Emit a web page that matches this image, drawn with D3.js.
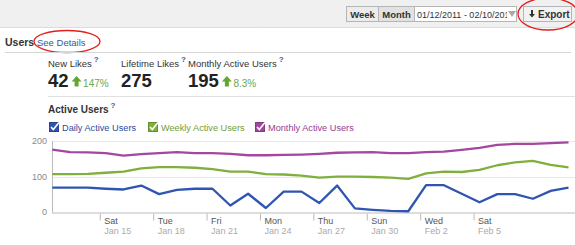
<!DOCTYPE html>
<html><head><meta charset="utf-8">
<script src="https://cdn.jsdelivr.net/npm/d3@7"></script>
<style>
html,body{margin:0;padding:0;background:#fff;}
svg{display:block;font-family:"Liberation Sans",Arial,sans-serif;}
</style></head>
<body><div id="chart"></div>
<script>
// ---- data ----
const dates = d3.range(30).map(i => new Date(2011, 0, 12 + i, 8));
const dailyActive   = [69,69,69,66,64,75,51,63,66,66,19,52,12,58,58,26,75,11,7,4,3,76,76,52,28,51,51,38,60,69];
const weeklyActive  = [107,107,108,111,114,123,127,127,125,121,114,114,107,106,103,97,100,100,99,97,94,109,114,113,119,132,140,144,133,126];
const monthlyActive = [176,169,168,166,159,163,166,169,166,166,164,160,160,161,162,164,167,168,169,166,166,169,170,175,181,189,192,192,194,196];
const seriesNames = ["Daily Active Users","Weekly Active Users","Monthly Active Users"];
const seriesColors = ["#2f55b0","#7fb03c","#a3479f"];
const tickDates = [15,18,21,24,27,30,33,36].map(d => new Date(2011,0,d));
const yTicks = [0,100,200];
const stats = [
  {label:"New Likes", value:"42", change:"147%"},
  {label:"Lifetime Likes", value:"275", change:null},
  {label:"Monthly Active Users", value:"195", change:"8.3%"}
];
const dateRangeText = "01/12/2011 - 02/10/2011";

const W = 575, H = 245;
const svg = d3.select("#chart").append("svg").attr("width", W).attr("height", H);

// ---- top toolbar ----
svg.append("rect").attr("x",0).attr("y",0).attr("width",W).attr("height",27).attr("fill","#f0f0f0");
svg.append("line").attr("x1",0).attr("x2",W).attr("y1",27.5).attr("y2",27.5).attr("stroke","#dcdcdc");
const btnG = svg.append("g");
function btn(x,w,label,bg){
  btnG.append("rect").attr("x",x+0.5).attr("y",6.5).attr("width",w).attr("height",15)
    .attr("fill",bg).attr("stroke","#b5b5b5");
  btnG.append("text").attr("x",x+w/2+0.5).attr("y",17.5).attr("text-anchor","middle")
    .attr("font-size",9.5).attr("font-weight","bold").attr("fill","#333").text(label);
}
btn(346,32,"Week","#ececec");
btn(378,36,"Month","#e2e2e2");
// date box
btnG.append("rect").attr("x",414.5).attr("y",6.5).attr("width",102).attr("height",15).attr("fill","#fff").attr("stroke","#b5b5b5");
svg.append("clipPath").attr("id","dclip").append("rect").attr("x",415).attr("y",6).attr("width",92).attr("height",16);
btnG.append("text").attr("x",417).attr("y",17.5).attr("font-size",9).attr("fill","#333")
  .attr("clip-path","url(#dclip)").text(dateRangeText);
btnG.append("path").attr("d","M508,11 L516,11 L512,17 Z").attr("fill","#aaa");
// export
btnG.append("rect").attr("x",523.5).attr("y",6.5).attr("width",48).attr("height",15).attr("fill","#f2f2f2").attr("stroke","#b5b5b5");
btnG.append("path").attr("d","M531,10 L533,10 L533,14 L535,14 L532,17.5 L529,14 L531,14 Z").attr("fill","#333");
btnG.append("text").attr("x",538).attr("y",17.5).attr("font-size",10).attr("font-weight","bold").attr("fill","#333").text("Export");
svg.append("ellipse").attr("cx",548).attr("cy",14).attr("rx",30).attr("ry",16)
  .attr("fill","none").attr("stroke","#e0201c").attr("stroke-width",1.3);

// ---- Users header ----
svg.append("text").attr("x",5).attr("y",46).attr("font-size",10.5).attr("font-weight","bold").attr("fill","#333").text("Users");
svg.append("text").attr("x",37).attr("y",46).attr("font-size",9.5).attr("fill","#3b5998").text("See Details");
svg.append("ellipse").attr("cx",67).attr("cy",41.5).attr("rx",33).attr("ry",11)
  .attr("fill","none").attr("stroke","#e0201c").attr("stroke-width",1.3);
svg.append("line").attr("x1",5).attr("x2",W-4).attr("y1",52.5).attr("y2",52.5).attr("stroke","#d6d6d6");

// ---- stats ----
const statX = [48,121,188];
stats.forEach((s,i)=>{
  const g = svg.append("g").attr("transform",`translate(${statX[i]},0)`);
  const lab = g.append("text").attr("x",0).attr("y",67).attr("font-size",9.5).attr("fill","#333").text(s.label);
  const lw = lab.node().getComputedTextLength();
  g.append("text").attr("x",lw+2).attr("y",62).attr("font-size",8).attr("font-weight","bold").attr("fill","#3b5998").text("?");
  const v = g.append("text").attr("x",0).attr("y",87).attr("font-size",18.5).attr("font-weight","bold").attr("fill","#222").text(s.value);
  const vw = v.node().getComputedTextLength();
  if(s.change){
    const ax = vw+3;
    g.append("path").attr("d",`M${ax+5},76 L${ax+10},81.5 L${ax+7},81.5 L${ax+7},86.5 L${ax+3},86.5 L${ax+3},81.5 L${ax},81.5 Z`).attr("fill","#63a530");
    g.append("text").attr("x",ax+11.5).attr("y",86.5).attr("font-size",10).attr("fill","#6aa84f").text(s.change);
  }
});
svg.append("line").attr("x1",48).attr("x2",W).attr("y1",96.5).attr("y2",96.5).attr("stroke","#e0e0e0");

// ---- Active Users title ----
const au = svg.append("text").attr("x",48).attr("y",113).attr("font-size",10).attr("font-weight","bold").attr("fill","#333").text("Active Users");
const auw = au.node().getComputedTextLength();
svg.append("text").attr("x",48+auw+2).attr("y",108).attr("font-size",8).attr("font-weight","bold").attr("fill","#3b5998").text("?");

// ---- legend ----
const legX = [49,148,255];
seriesNames.forEach((n,i)=>{
  const g = svg.append("g").attr("transform",`translate(${legX[i]},122)`);
  g.append("rect").attr("x",0.5).attr("y",0.5).attr("width",9).attr("height",9).attr("fill",seriesColors[i]).attr("stroke",d3.color(seriesColors[i]).darker(0.6));
  g.append("path").attr("d","M2,5 L4.3,7.5 L10,0.5").attr("fill","none").attr("stroke","#fff").attr("stroke-width",1.6);
  g.append("text").attr("x",13).attr("y",8.8).attr("font-size",9.2).attr("fill",d3.color(seriesColors[i]).darker(0.3)).text(n);
});

// ---- chart ----
const x = d3.scaleTime().domain([dates[0], dates[dates.length-1]]).range([52.3, 568.5]);
const y = d3.scaleLinear().domain([0,200]).range([212.3, 141]);

svg.append("g").selectAll("line").data(yTicks.filter(d=>d>0)).join("line")
  .attr("x1",52).attr("x2",W).attr("y1",d=>Math.round(y(d))+0.5).attr("y2",d=>Math.round(y(d))+0.5)
  .attr("stroke","#e8e8e8");
svg.append("g").selectAll("text").data(yTicks).join("text")
  .attr("x",47).attr("y",d=>y(d)+3).attr("text-anchor","end").attr("font-size",9).attr("fill","#888").text(d=>d);
svg.append("line").attr("x1",52.5).attr("x2",52.5).attr("y1",141).attr("y2",212.5).attr("stroke","#bbb");

const fmtDay = d3.timeFormat("%a"), fmtDate = d3.timeFormat("%b %-d");
const xAxis = d3.axisBottom(x).tickValues(tickDates.filter(d=>x(d)<560)).tickSize(8).tickFormat(fmtDay);
const xg = svg.append("g").attr("transform","translate(0,212.5)").call(xAxis);
xg.attr("font-family",null);
xg.select(".domain").attr("stroke","#bbb").attr("d",`M52,0.5H${W}`);
xg.selectAll(".tick line").attr("stroke","#bbb").attr("y1",1);
xg.selectAll(".tick text").attr("text-anchor","start").attr("x",4).attr("y",5).attr("dy","0.71em")
  .attr("font-size",9).attr("fill","#555");
xg.selectAll(".tick").append("text").attr("x",4).attr("y",15).attr("dy","0.71em")
  .attr("font-size",9).attr("fill","#aaa").attr("text-anchor","start").text(d=>fmtDate(d));

const allSeries = [dailyActive, weeklyActive, monthlyActive];
const line = d3.line().x((d,i)=>x(dates[i])).y(d=>y(d));
[2,1,0].forEach(k=>{
  svg.append("path").datum(allSeries[k]).attr("d",line).attr("fill","none")
    .attr("stroke",seriesColors[k]).attr("stroke-width",2.3).attr("stroke-linejoin","round");
});
</script></body></html>
